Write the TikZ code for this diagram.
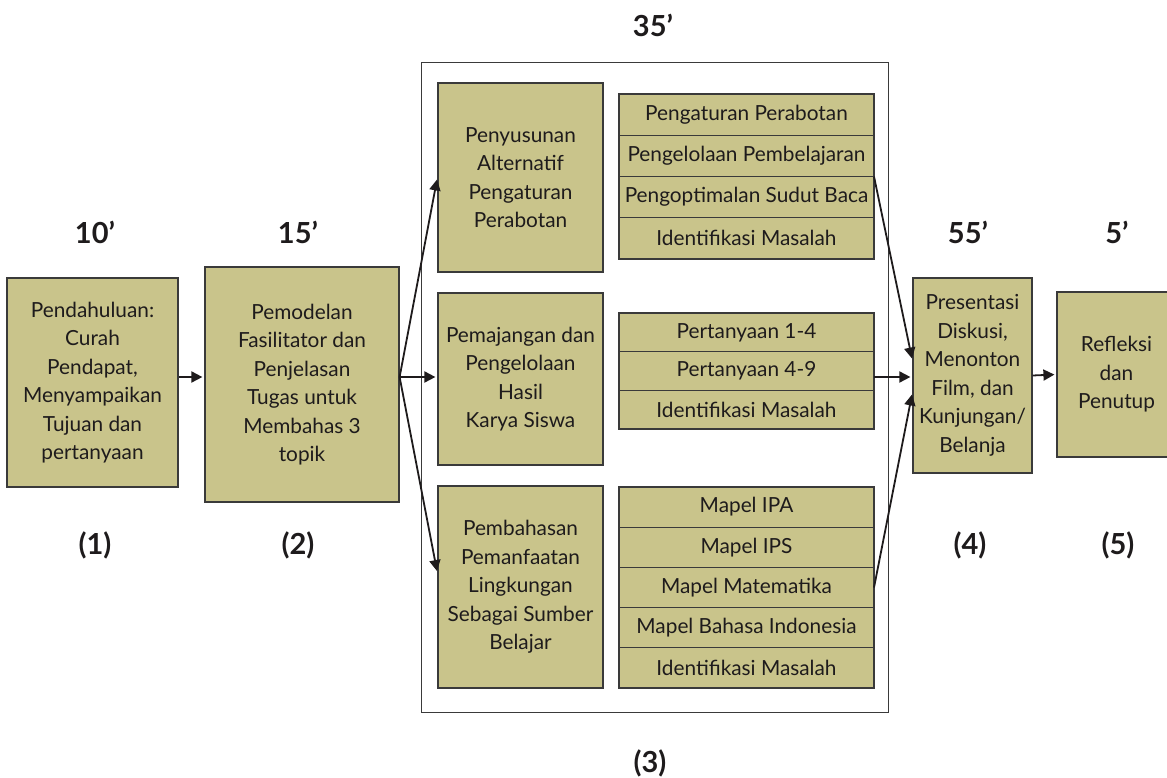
\documentclass[tikz,border=0pt]{standalone}
\usepackage{fontspec}
\setmainfont{Lato}
\usetikzlibrary{positioning,arrows.meta}
\definecolor{khaki}{HTML}{C9C48B}
\definecolor{edge}{HTML}{3A3A3A}
\definecolor{ink}{HTML}{1E1B1C}

\begin{document}
\begin{tikzpicture}[
    x=1pt, y=-1pt,
    every node/.style={font=\fontsize{20.8}{28.5}\selectfont, align=center, text=ink},
    box/.style={draw=edge, fill=khaki, line width=1.2pt, inner sep=0pt},
    row/.style={box, minimum width=255pt, outer sep=0pt},
    dur/.style={font=\fontsize{29}{30}\selectfont\bfseries},
    arr/.style={-{Triangle[length=11pt, width=11pt]}, line width=1.8pt, color=ink, shorten >=2pt}
  ]
  \useasboundingbox (0,0) rectangle (1167,778);

  % ---- etapes 1 et 2 --------------------------------------------------
  \node[box, minimum width=171pt, minimum height=209pt] (b1) at (92.5,382.5)
    {Pendahuluan:\\Curah\\Pendapat,\\Menyampaikan\\Tujuan dan\\pertanyaan};
  \node[box, minimum width=194pt, minimum height=235pt] (b2) at (302,384.5)
    {Pemodelan\\Fasilitator dan\\Penjelasan\\Tugas untuk\\Membahas 3\\topik};

  % ---- etape 3 : cadre et trois topik ---------------------------------
  \node[draw=edge, line width=1pt, inner sep=0pt,
        minimum width=467pt, minimum height=649pt] (grp) at (654.5,387.5) {};

  \node[box, minimum width=165pt, minimum height=189pt] (b3a) at (520.5,177.5)
    {Penyusunan\\Alternatif\\Pengaturan\\Perabotan};
  \node[box, minimum width=165pt, minimum height=172pt] (b3b) at (520.5,379)
    {Pemajangan dan\\Pengelolaan\\Hasil\\Karya Siswa};
  \node[box, minimum width=165pt, minimum height=202pt] (b3c) at (520.5,587)
    {Pembahasan\\Pemanfaatan\\Lingkungan\\Sebagai Sumber\\Belajar};

  % ---- listes a droite ------------------------------------------------
  \node[row, minimum height=41.25pt, anchor=north] (s1a) at (746.5,94) {Pengaturan Perabotan};
  \node[row, minimum height=41.25pt, below=0pt of s1a] (s1b) {Pengelolaan Pembelajaran};
  \node[row, minimum height=41.25pt, below=0pt of s1b] (s1c) {Pengoptimalan Sudut Baca};
  \node[row, minimum height=41.25pt, below=0pt of s1c] (s1d) {Identifikasi Masalah};

  \node[row, minimum height=38.67pt, anchor=north] (s2a) at (746.5,313) {Pertanyaan 1-4};
  \node[row, minimum height=38.67pt, below=0pt of s2a] (s2b) {Pertanyaan 4-9};
  \node[row, minimum height=38.67pt, below=0pt of s2b] (s2c) {Identifikasi Masalah};

  \node[row, minimum height=40.2pt, anchor=north] (s3a) at (746.5,487) {Mapel IPA};
  \node[row, minimum height=40.2pt, below=0pt of s3a] (s3b) {Mapel IPS};
  \node[row, minimum height=40.2pt, below=0pt of s3b] (s3c) {Mapel Matematika};
  \node[row, minimum height=40.2pt, below=0pt of s3c] (s3d) {Mapel Bahasa Indonesia};
  \node[row, minimum height=40.2pt, below=0pt of s3d] (s3e) {Identifikasi Masalah};

  % ---- etapes 4 et 5 --------------------------------------------------
  \node[box, minimum width=119pt, minimum height=195pt] (b4) at (972.5,375.5)
    {Presentasi\\Diskusi,\\Menonton\\Film, dan\\Kunjungan/\\Belanja};
  \node[box, minimum width=119pt, minimum height=165pt] (b5) at (1116.5,374.5)
    {Refleksi\\dan\\Penutup};

  % ---- durees et numeros ----------------------------------------------
  \node[dur] (t1) at (95,232)   {10’};
  \node[dur] (t2) at (298,232)  {15’};
  \node[dur] (t3) at (653,25)   {35’};
  \node[dur] (t4) at (968,232)  {55’};
  \node[dur] (t5) at (1117,232) {5’};

  \node[dur] (n1) at (95,545)   {(1)};
  \node[dur] (n2) at (298,545)  {(2)};
  \node[dur] (n3) at (650,763)  {(3)};
  \node[dur] (n4) at (970,545)  {(4)};
  \node[dur] (n5) at (1118,545) {(5)};

  % ---- fleches --------------------------------------------------------
  \coordinate (axis) at (0,377);
  \draw[arr] (b1.east |- axis) -- (b2.west |- axis);
  \draw[arr] (b2.east |- axis) -- (b3a.west);
  \draw[arr] (b2.east |- axis) -- (b3b.west |- axis);
  \draw[arr] (b2.east |- axis) -- ([yshift=14pt]b3c.west);

  \draw[arr] (s1b.south east) -- ([yshift=15pt]b4.west);
  \draw[arr] (s2b.east |- axis) -- (b4.west |- axis);
  \draw[arr] (s3c.east) -- ([yshift=-17pt]b4.west);
  \draw[arr] (b4.east) -- (b5.west);

\end{tikzpicture}
\end{document}
